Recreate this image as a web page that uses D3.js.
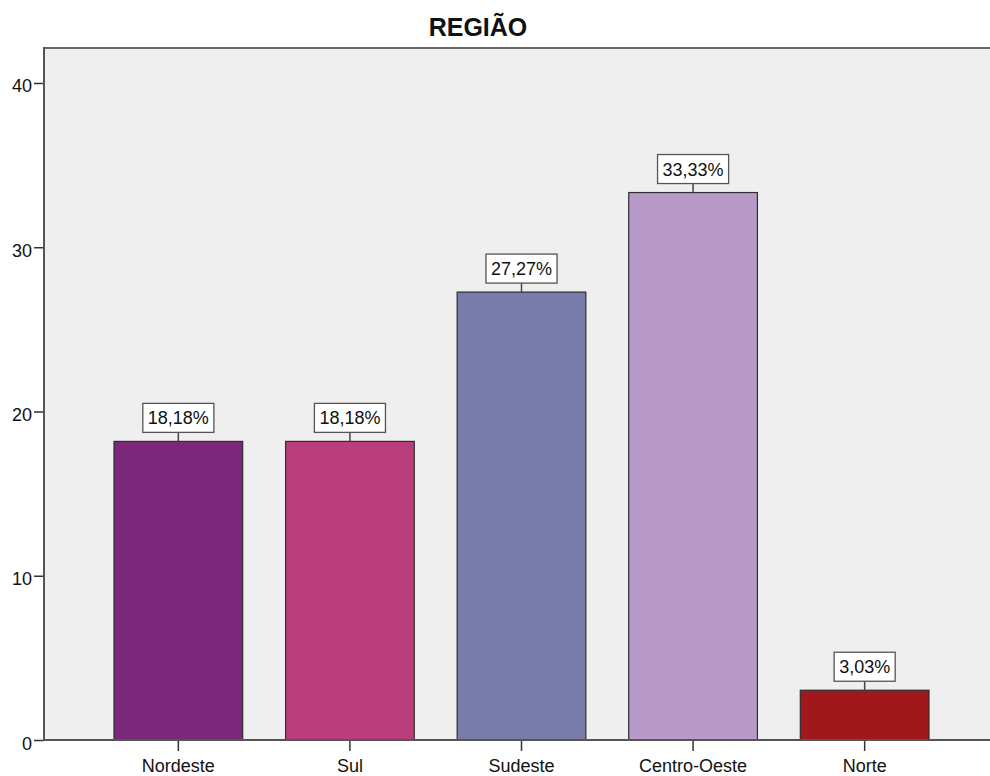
<!DOCTYPE html>
<html><head><meta charset="utf-8">
<script src="https://cdn.jsdelivr.net/npm/d3@7"></script>
<style>
html,body{margin:0;padding:0;background:#fff;}
svg{display:block;font-family:"Liberation Sans",Arial,sans-serif;}
</style></head>
<body>
<svg id="chart" width="990" height="776"></svg>
<script>
const title = "REGIÃO";
const categories = ["Nordeste", "Sul", "Sudeste", "Centro-Oeste", "Norte"];
const values = [18.18, 18.18, 27.27, 33.33, 3.03];
const valueLabels = ["18,18%", "18,18%", "27,27%", "33,33%", "3,03%"];
const colors = ["#7b287a", "#b93e7b", "#797ba8", "#b89ac8", "#a0181b"];
const yTicks = [0, 10, 20, 30, 40];

const svg = d3.select("#chart");
const mLeft = 44, mTop = 48, mBottom = 740, mRight = 999;

const y = d3.scaleLinear().domain([0, 42.13]).range([mBottom, mTop]);
const x = d3.scaleBand().domain(categories).range([mLeft, mRight])
  .paddingInner(0.25).paddingOuter(0.408);

// plot background
svg.append("rect").attr("x", mLeft).attr("y", mTop)
  .attr("width", mRight - mLeft + 20).attr("height", mBottom - mTop)
  .attr("fill", "#efefef");

// bars
svg.selectAll("rect.bar").data(categories).join("rect")
  .attr("class", "bar")
  .attr("x", d => x(d))
  .attr("width", x.bandwidth())
  .attr("y", (d, i) => y(values[i]))
  .attr("height", (d, i) => y(0) - y(values[i]))
  .attr("fill", (d, i) => colors[i])
  .attr("stroke", "#2e2e2e").attr("stroke-width", 1.2);

// frame top
svg.append("line").attr("x1", mLeft).attr("x2", 1000).attr("y1", mTop).attr("y2", mTop)
  .attr("stroke", "#666").attr("stroke-width", 2);

// y axis
const yAxis = svg.append("g").attr("transform", `translate(${mLeft},0)`)
  .call(d3.axisLeft(y).tickValues(yTicks).tickSize(10).tickPadding(2).tickFormat(d3.format("d")));
yAxis.select(".domain").remove();
yAxis.append("line").attr("x1", 0).attr("x2", 0).attr("y1", mTop - 1).attr("y2", mBottom + 1)
  .attr("stroke", "#555").attr("stroke-width", 2);
yAxis.selectAll(".tick line").attr("stroke", "#333").attr("stroke-width", 1.5);
yAxis.selectAll(".tick text").attr("font-size", 18).attr("fill", "#111")
  .attr("font-family", "Liberation Sans, Arial, sans-serif").attr("dy", "0.5em");

// x axis
const xAxis = svg.append("g").attr("transform", `translate(0,${mBottom})`)
  .call(d3.axisBottom(x).tickSize(11).tickPadding(6));
xAxis.select(".domain").remove();
xAxis.append("line").attr("x1", mLeft).attr("x2", 1000).attr("y1", 0).attr("y2", 0)
  .attr("stroke", "#555").attr("stroke-width", 2);
xAxis.selectAll(".tick line").attr("stroke", "#333").attr("stroke-width", 1.5);
xAxis.selectAll(".tick text").attr("font-size", 18).attr("fill", "#111")
  .attr("font-family", "Liberation Sans, Arial, sans-serif").attr("dy", "0.82em");

// value labels
const lab = svg.selectAll("g.lab").data(categories).join("g").attr("class", "lab")
  .attr("transform", (d, i) => `translate(${x(d) + x.bandwidth() / 2},${y(values[i])})`);
lab.append("line").attr("x1", 0).attr("x2", 0).attr("y1", 0).attr("y2", -9)
  .attr("stroke", "#444").attr("stroke-width", 1.5);
lab.each(function(d, i) {
  const g = d3.select(this);
  const t = g.append("text").attr("x", 0).attr("y", -9 - 8).attr("text-anchor", "middle")
    .attr("font-size", 18).attr("fill", "#111").text(valueLabels[i]);
  const w = t.node().getComputedTextLength() + 10;
  g.insert("rect", "text").attr("x", -w / 2).attr("y", -9 - 29).attr("width", w).attr("height", 29)
    .attr("fill", "#fff").attr("stroke", "#555").attr("stroke-width", 1.3);
});

// title
svg.append("text").attr("x", 478).attr("y", 36).attr("text-anchor", "middle")
  .attr("font-size", 25).attr("font-weight", "bold").attr("fill", "#111").text(title);
</script>
</body></html>
